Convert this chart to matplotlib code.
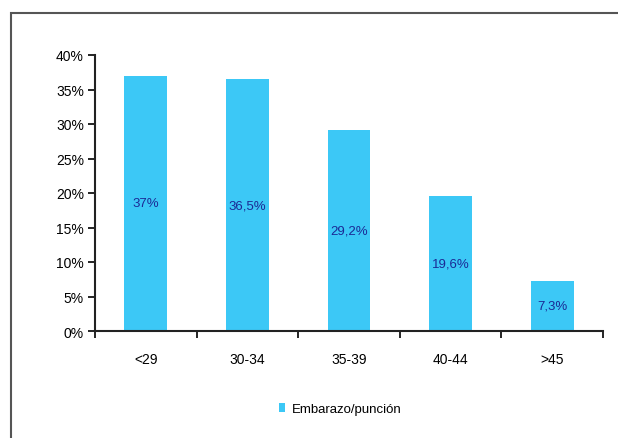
import matplotlib.pyplot as plt
from matplotlib.patches import Rectangle
from matplotlib.ticker import PercentFormatter

plt.rcParams['font.family'] = ['Liberation Sans', 'DejaVu Sans']

categories = ["<29", "30-34", "35-39", "40-44", ">45"]
values = [37, 36.5, 29.2, 19.6, 7.3]
labels = ["37%", "36,5%", "29,2%", "19,6%", "7,3%"]

fig = plt.figure(figsize=(6.18, 4.39), dpi=100)
# outer frame, cut off at right and bottom like the original
fig.patches.append(Rectangle((11 / 618, -0.1), 1.2, 1 - 14 / 439 + 0.1,
                             transform=fig.transFigure, fill=False,
                             edgecolor="#555555", linewidth=1.5))

ax = fig.add_axes([95 / 618, 1 - 332 / 439, 508 / 618, 276 / 439])
x = range(len(categories))
bars = ax.bar(x, values, width=0.42, color="#3cc8f6", label="Embarazo/punción")

for b, lab in zip(bars, labels):
    ax.text(b.get_x() + b.get_width() / 2, b.get_height() / 2, lab,
            ha="center", va="center", color="#1b2a96", fontsize=9.5)

ax.set_xlim(-0.5, len(categories) - 0.5)
ax.set_ylim(0, 40)
ax.set_yticks(range(0, 41, 5))
ax.yaxis.set_major_formatter(PercentFormatter(decimals=0))
ax.set_xticks(list(x))
ax.set_xticklabels(categories)
ax.set_xticks([i - 0.5 for i in range(len(categories) + 1)], minor=True)
ax.tick_params(axis="x", which="major", length=0, pad=15, labelsize=10)
ax.tick_params(axis="x", which="minor", length=5, width=1.2, direction="out")
ax.tick_params(axis="y", length=5, width=1.2, labelsize=10, pad=3)

for s in ["top", "right"]:
    ax.spines[s].set_visible(False)
for s in ["left", "bottom"]:
    ax.spines[s].set_linewidth(1.5)
    ax.spines[s].set_color("#222222")

fig.legend(handles=[bars], labels=["Embarazo/punción"], loc="center",
           bbox_to_anchor=(340 / 618, 1 - 410 / 439), frameon=False,
           fontsize=9.5, handlelength=0.5, handleheight=0.7, handletextpad=0.5)

fig.savefig("out.png", dpi=100)
